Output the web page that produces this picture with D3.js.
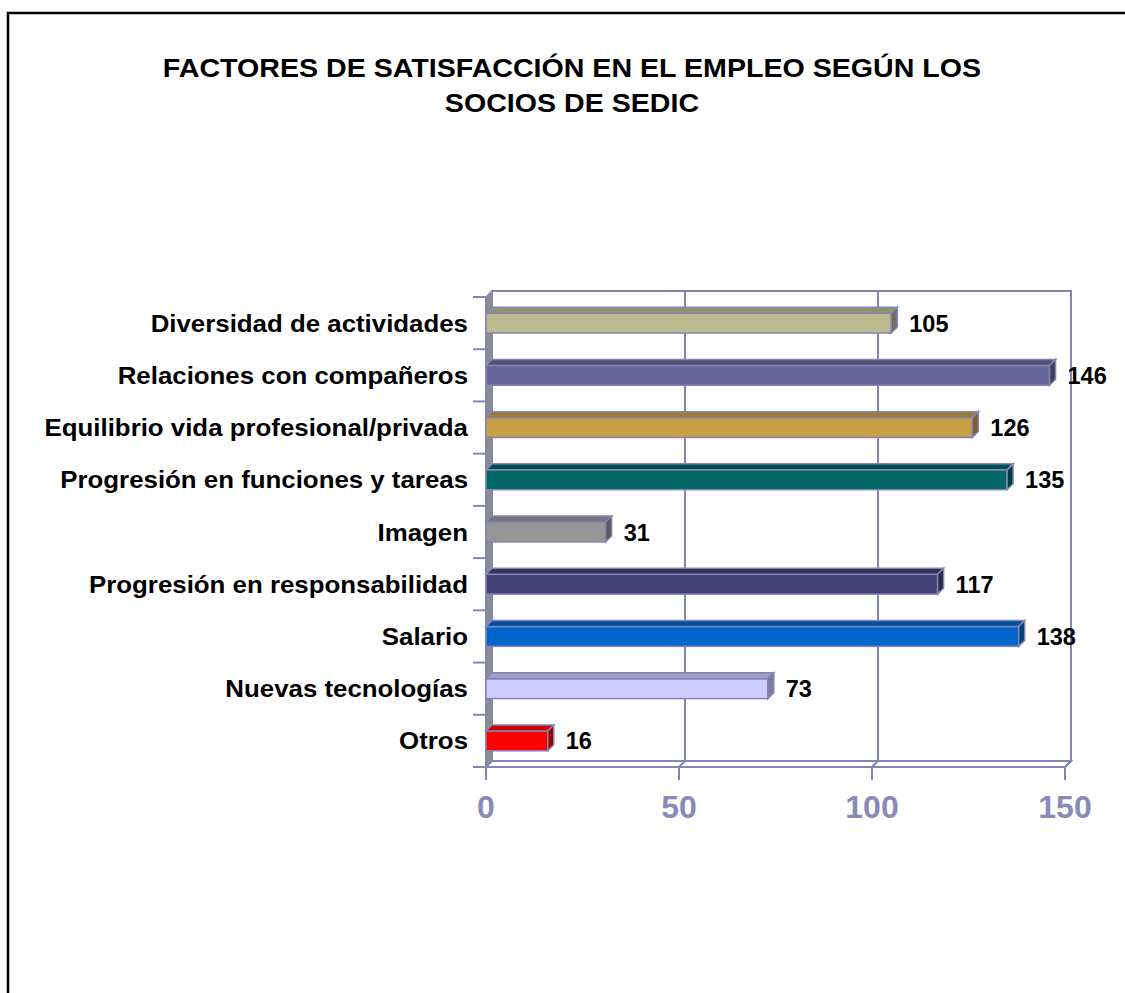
<!DOCTYPE html>
<html>
<head>
<meta charset="utf-8">
<script src="https://cdn.jsdelivr.net/npm/d3@7"></script>
<style>
  body { margin: 0; background: #fff; }
  text { font-family: Arial, "Liberation Sans", sans-serif; font-weight: bold; }
</style>
</head>
<body>
<svg></svg>
<script>
const svg = d3.select('svg')
    .attr('width', 1125)
    .attr('height', 993)

const categories = ['Diversidad de actividades', 'Relaciones con compañeros', 'Equilibrio vida profesional/privada',
    'Progresión en funciones y tareas', 'Imagen', 'Progresión en responsabilidad', 'Salario', 'Nuevas tecnologías', 'Otros'];
const values = [105, 146, 126, 135, 31, 117, 138, 73, 16];
const barColors = ['#bbbb8f', '#666699', '#c8a046', '#006666', '#969696', '#424275', '#0066cc', '#ccccff', '#ff0000'];
const xTicks = [0, 50, 100, 150];
const titleLines = ['FACTORES DE SATISFACCIÓN EN EL EMPLEO SEGÚN LOS', 'SOCIOS DE SEDIC'];

const depth = 6;
const lineColor = '#8585b5';
const x = d3.scaleLinear().domain([0, 150]).range([486, 1065]);
const y = d3.scaleBand().domain(categories).range([297, 767]).paddingInner(0.62).paddingOuter(0.31);
const yTop = 297, yBottom = 767;

// outer frame
svg.append('rect')
    .attr('x', 8).attr('y', 13)
    .attr('width', 1200).attr('height', 1100)
    .attr('fill', 'none').attr('stroke', '#000').attr('stroke-width', 2.5);

// title
titleLines.forEach((t, i) => {
    svg.append('text')
        .attr('transform', `translate(572,${77 + i * 35}) scale(1.1,1)`)
        .attr('text-anchor', 'middle')
        .style('font-size', '26px')
        .text(t);
});

// back wall
svg.append('rect')
    .attr('x', x(0) + depth).attr('y', yTop - depth)
    .attr('width', x(150) - x(0)).attr('height', yBottom - yTop)
    .attr('fill', '#fff').attr('stroke', lineColor).attr('stroke-width', 2);

// left wall
svg.append('polygon')
    .attr('points', [[x(0), yTop], [x(0) + depth, yTop - depth], [x(0) + depth, yBottom - depth], [x(0), yBottom]].join(' '))
    .attr('fill', '#8c8c8c').attr('stroke', lineColor).attr('stroke-width', 1.5);

// floor
svg.append('polygon')
    .attr('points', [[x(0), yBottom], [x(0) + depth, yBottom - depth], [x(150) + depth, yBottom - depth], [x(150), yBottom]].join(' '))
    .attr('fill', '#fff').attr('stroke', lineColor).attr('stroke-width', 2);

// gridlines on back wall + floor
svg.selectAll('.grid')
    .data(xTicks.slice(1))
    .enter()
    .append('polyline')
    .attr('points', d => [[x(d), yBottom], [x(d) + depth, yBottom - depth], [x(d) + depth, yTop - depth]].join(' '))
    .attr('fill', 'none').attr('stroke', lineColor).attr('stroke-width', 2);

// x axis
svg.append('line')
    .attr('x1', x(0)).attr('x2', x(150))
    .attr('y1', yBottom).attr('y2', yBottom)
    .attr('stroke', lineColor).attr('stroke-width', 2);

svg.selectAll('.x-tick')
    .data(xTicks)
    .enter()
    .append('line')
    .attr('x1', d => x(d)).attr('x2', d => x(d))
    .attr('y1', yBottom).attr('y2', yBottom + 13)
    .attr('stroke', lineColor).attr('stroke-width', 2);

svg.selectAll('.x-label')
    .data(xTicks)
    .enter()
    .append('text')
    .attr('x', d => x(d))
    .attr('y', 818)
    .attr('text-anchor', 'middle')
    .attr('fill', '#8a8ab8')
    .style('font-size', '32px')
    .text(d => d);

// y axis
svg.append('line')
    .attr('x1', x(0)).attr('x2', x(0))
    .attr('y1', yTop).attr('y2', yBottom)
    .attr('stroke', lineColor).attr('stroke-width', 2);

svg.selectAll('.y-tick')
    .data(d3.range(categories.length + 1))
    .enter()
    .append('line')
    .attr('x1', x(0) - 13).attr('x2', x(0))
    .attr('y1', i => yTop + i * y.step()).attr('y2', i => yTop + i * y.step())
    .attr('stroke', lineColor).attr('stroke-width', 2);

svg.selectAll('.y-label')
    .data(categories)
    .enter()
    .append('text')
    .attr('transform', d => `translate(468,${y(d) + y.bandwidth() / 2 + 8.5}) scale(1.1,1)`)
    .attr('text-anchor', 'end')
    .style('font-size', '23.5px')
    .text(d => d);

// bars: front face, top face, end face
const bars = svg.selectAll('g.bar')
    .data(values)
    .enter()
    .append('g')
    .attr('class', 'bar');

bars.append('rect')
    .attr('x', x(0))
    .attr('y', (d, i) => y(categories[i]))
    .attr('width', d => x(d) - x(0))
    .attr('height', y.bandwidth())
    .attr('fill', (d, i) => barColors[i])
    .attr('stroke', lineColor).attr('stroke-width', 1.5);

bars.append('polygon')
    .attr('points', (d, i) => {
        const t = y(categories[i]);
        return [[x(0), t], [x(d), t], [x(d) + depth, t - depth], [x(0) + depth, t - depth]].join(' ');
    })
    .attr('fill', (d, i) => d3.color(barColors[i]).darker(0.7))
    .attr('stroke', lineColor).attr('stroke-width', 1.5);

bars.append('polygon')
    .attr('points', (d, i) => {
        const t = y(categories[i]), b = t + y.bandwidth();
        return [[x(d), t], [x(d) + depth, t - depth], [x(d) + depth, b - depth], [x(d), b]].join(' ');
    })
    .attr('fill', (d, i) => d3.color(barColors[i]).darker(1.4))
    .attr('stroke', lineColor).attr('stroke-width', 1.5);

// value labels
bars.append('text')
    .attr('x', d => x(d) + depth + 12)
    .attr('y', (d, i) => y(categories[i]) + y.bandwidth() / 2 + 8.5)
    .style('font-size', '23.5px')
    .text(d => d);
</script>
</body>
</html>
